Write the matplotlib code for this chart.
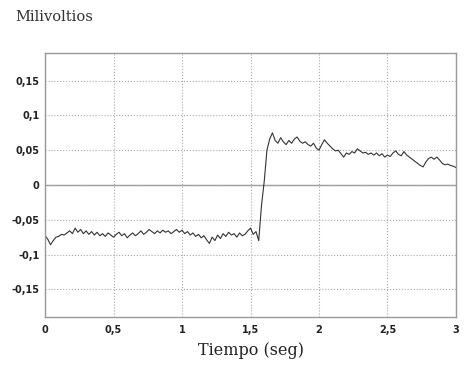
import numpy as np
import matplotlib.pyplot as plt

# señal, muestreo cada 0.02 s de 0 a 3 s
mv = [-0.073, -0.078, -0.086, -0.080, -0.075, -0.074, -0.071, -0.072, -0.069, -0.066, -0.070, -0.062, -0.068, -0.064, -0.070, -0.066,
      -0.071, -0.067, -0.072, -0.068, -0.073, -0.070, -0.074, -0.069, -0.072, -0.075, -0.071, -0.068, -0.073, -0.070, -0.076,
      -0.072, -0.069, -0.073, -0.070, -0.066, -0.071, -0.068, -0.064, -0.067, -0.070, -0.066, -0.069, -0.065, -0.068, -0.066,
      -0.070, -0.067, -0.064, -0.068, -0.065, -0.070, -0.067, -0.072, -0.069, -0.074, -0.071, -0.076, -0.073, -0.079, -0.084,
      -0.075, -0.080, -0.072, -0.077, -0.070, -0.074, -0.068, -0.072, -0.070, -0.075, -0.069, -0.073, -0.071, -0.066, -0.062,
      -0.071, -0.067, -0.080, -0.030,
      0.005, 0.050, 0.066, 0.075, 0.064, 0.060,
      0.068, 0.062, 0.058, 0.064, 0.060, 0.066, 0.069, 0.063, 0.060, 0.062, 0.058, 0.056, 0.060, 0.053, 0.050,
      0.058, 0.065, 0.060, 0.056, 0.052, 0.049, 0.050, 0.045, 0.040, 0.046, 0.044, 0.048, 0.046, 0.052, 0.049,
      0.046, 0.047, 0.044, 0.046, 0.043, 0.046, 0.042, 0.045, 0.040, 0.043, 0.041, 0.046, 0.049, 0.044, 0.042,
      0.048, 0.043, 0.040, 0.037, 0.034, 0.031, 0.028, 0.026, 0.033, 0.038,
      0.040, 0.037, 0.040, 0.036, 0.031, 0.029, 0.030, 0.028, 0.027, 0.025]
t = np.linspace(0, 3, len(mv))

xticks = [0, 0.5, 1, 1.5, 2, 2.5, 3]
xlabels = ["0", "0,5", "1", "1,5", "2", "2,5", "3"]
yticks = [-0.15, -0.1, -0.05, 0, 0.05, 0.1, 0.15]
ylabels = ["-0,15", "-0,1", "-0,05", "0", "0,05", "0,1", "0,15"]

fig = plt.figure(figsize=(4.74, 3.67), dpi=100)
ax = fig.add_axes([0.095, 0.136, 0.867, 0.72])

ax.plot(t, mv, color='#333333', lw=0.8)
ax.axhline(0, color='#999999', lw=1.0, zorder=1)

ax.set_xlim(0, 3)
ax.set_ylim(-0.19, 0.19)
ax.set_xticks(xticks)
ax.set_xticklabels(xlabels)
ax.set_yticks(yticks)
ax.set_yticklabels(ylabels)
ax.tick_params(labelsize=7, length=0, pad=6, colors='#222222')
for lbl in ax.get_xticklabels() + ax.get_yticklabels():
    lbl.set_fontweight('bold')
ax.tick_params(axis='y', pad=4)

ax.grid(True, color='#aaaaaa', ls=':', lw=0.8)
for s in ax.spines.values():
    s.set_color('#999999')
    s.set_linewidth(1.0)

fig.text(0.032, 0.955, "Milivoltios", family='DejaVu Serif', fontsize=10.5, color='#333333', va='center')
ax.set_xlabel("Tiempo (seg)", family='DejaVu Serif', fontsize=11.5, color='#222222', labelpad=5)

plt.savefig("out.png", dpi=100)
